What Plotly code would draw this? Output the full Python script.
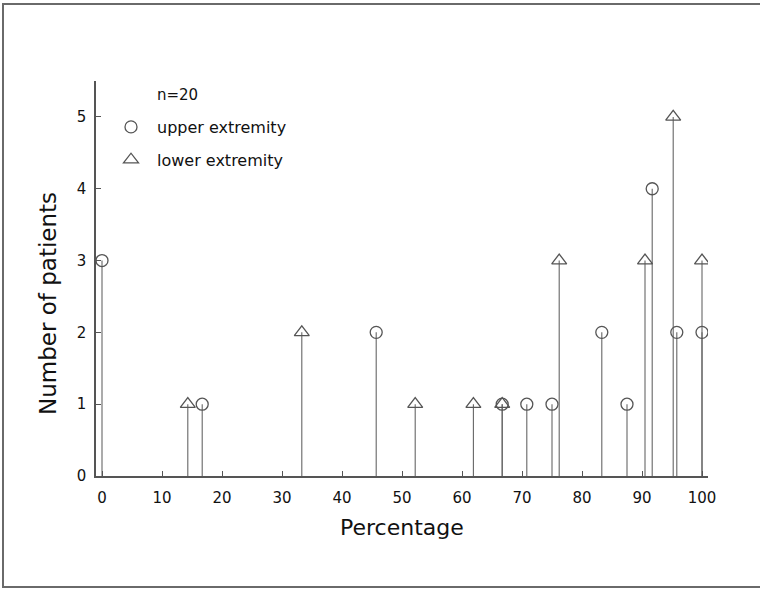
import plotly.graph_objects as go

# Data: percentage (x) and number of patients (y)
upper_pct = [0, 16.7, 45.7, 66.7, 70.8, 75.0, 83.3, 87.5, 91.7, 95.8, 100]
upper_n = [3, 1, 2, 1, 1, 1, 2, 1, 4, 2, 2]

lower_pct = [14.3, 33.3, 52.2, 61.9, 66.7, 76.2, 90.5, 95.2, 100]
lower_n = [1, 2, 1, 1, 1, 3, 3, 5, 3]

x_ticks = [0, 10, 20, 30, 40, 50, 60, 70, 80, 90, 100]
y_ticks = [0, 1, 2, 3, 4, 5]

FONT = "DejaVu Sans"
INK = "#111111"
LINE = "#555555"

W, H = 760, 589
L, R, T, B = 96, 52, 81, 113
PW, PH = W - L - R, H - T - B


def px_x(p):
    return (p - L) / PW


def px_y(p):
    return (H - B - p) / PH


def stems(xs, ys):
    sx, sy = [], []
    for x, y in zip(xs, ys):
        sx += [x, x, None]
        sy += [0, y, None]
    return sx, sy


fig = go.Figure()

ux, uy = stems(upper_pct, upper_n)
lx, ly = stems(lower_pct, lower_n)
fig.add_trace(go.Scatter(x=ux, y=uy, mode="lines", line=dict(color="#666666", width=1.1),
                         showlegend=False, hoverinfo="skip"))
fig.add_trace(go.Scatter(x=lx, y=ly, mode="lines", line=dict(color="#666666", width=1.1),
                         showlegend=False, hoverinfo="skip"))

fig.add_trace(go.Scatter(x=upper_pct, y=upper_n, mode="markers", name="upper extremity",
                         legendgroup="u",
                         marker=dict(symbol="circle-open", size=12, color=LINE,
                                     line=dict(width=1.3, color=LINE))))
fig.add_trace(go.Scatter(x=lower_pct, y=lower_n, mode="markers", name="lower extremity",
                         legendgroup="l",
                         marker=dict(symbol="triangle-up-open", size=13, color=LINE,
                                     line=dict(width=1.3, color=LINE))))

axis_common = dict(showline=True, linecolor=LINE, linewidth=1.5, ticks="inside", ticklen=5,
                   tickcolor=LINE, tickwidth=1, showgrid=False, zeroline=False,
                   tickfont=dict(family=FONT, size=15, color=INK))

fig.update_layout(
    width=W, height=H,
    margin=dict(l=L, r=R, t=T, b=B),
    paper_bgcolor="white", plot_bgcolor="white",
    xaxis=dict(range=[-1, 101], tickvals=x_ticks, ticklabelstandoff=7, **axis_common),
    yaxis=dict(range=[0, 5.5], tickvals=y_ticks, ticklabelstandoff=5, **axis_common),
    showlegend=True,
    legend=dict(x=px_x(105), y=px_y(110), xanchor="left", yanchor="top",
                font=dict(family=FONT, size=16, color=INK),
                traceorder="grouped", tracegroupgap=9, itemwidth=42,
                bgcolor="rgba(0,0,0,0)", borderwidth=0),
    annotations=[
        dict(text="Number of patients", x=px_x(48), y=px_y(304), xref="paper", yref="paper",
             textangle=-90, showarrow=False, xanchor="center", yanchor="middle",
             font=dict(family=FONT, size=23, color=INK)),
        dict(text="Percentage", x=px_x(401.5), y=px_y(527), xref="paper", yref="paper",
             showarrow=False, xanchor="center", yanchor="middle",
             font=dict(family=FONT, size=22, color=INK)),
        dict(text="n=20", x=px_x(155), y=px_y(95), xref="paper", yref="paper",
             showarrow=False, xanchor="left", yanchor="middle",
             font=dict(family=FONT, size=15, color=INK)),
    ],
    shapes=[
        dict(type="rect", xref="paper", yref="paper",
             x0=px_x(3), x1=px_x(775), y0=px_y(587), y1=px_y(4),
             line=dict(color="#6a6a6a", width=2), fillcolor="rgba(0,0,0,0)", layer="below"),
    ],
)

fig.write_html("out.html", config={"displayModeBar": False},
               post_script="document.body.style.margin='0';")
